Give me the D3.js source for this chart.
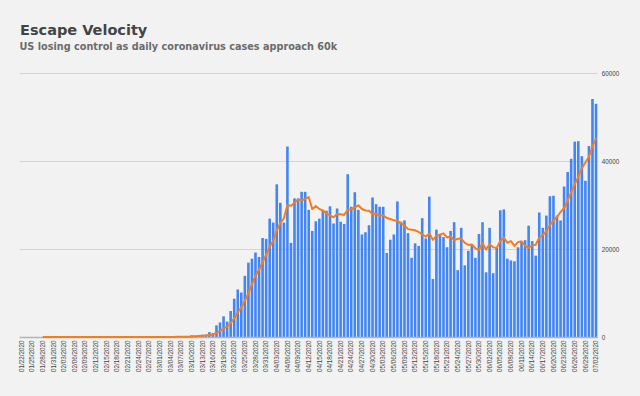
<!DOCTYPE html>
<html>
<head>
<meta charset="utf-8">
<script src="https://cdn.jsdelivr.net/npm/d3@7"></script>
<style>
    body { margin: 0; background: #f2f2f2; }
    svg { display: block; font-family: "DejaVu Sans", Verdana, sans-serif; }
</style>
</head>
<body>
<div id="chart"></div>
<script>

// US daily new coronavirus cases, one value per day from 01/22/2020 to 07/02/2020
let firstDay = "01/22/2020",
    lastDay = "07/02/2020";

let dailyCases = [
    // Jan 22 - Jan 31
    1, 0, 1, 0, 3, 0, 0, 0, 0, 1,
    // Feb
    1, 0, 3, 0, 1, 0, 0, 0, 0, 0, 1, 0, 1, 0, 0, 0, 0, 0, 0, 0, 2, 0, 0, 36, 0, 6, 1, 2, 8,
    // Mar
    6, 23, 20, 31, 68, 45, 140, 116, 65, 376, 322, 382, 516, 548, 1100, 900,
    2650, 3300, 4700, 3500, 5900, 8700, 10800, 10100, 13900, 16900, 17800, 19200, 18200, 22500, 22300,
    // Apr
    26900, 26000, 34700, 30500, 26000, 43300, 21400, 31500, 31500, 33000, 33000, 28900, 24100, 26300, 26900,
    28900, 28700, 29700, 25800, 29200, 26200, 25700, 37000, 29600, 32900, 28900, 23300, 23800, 25400, 31700,
    // May
    30200, 29600, 29600, 19100, 22100, 23300, 30800, 26200, 26500, 23600, 18000, 21300, 20700, 27000, 22400,
    31900, 13200, 24400, 23300, 22700, 20400, 24100, 26100, 15200, 24800, 16300, 19600, 21100, 18000, 23400, 26100,
    // Jun
    14700, 24800, 14500, 20300, 28800, 29000, 17800, 17400, 17200, 20400, 21600, 22000, 25300, 21800, 18500,
    28300, 24800, 27600, 32000, 32100, 27600, 26500, 34200, 37500, 40500, 44400, 44500, 41100, 35500, 43400,
    // Jul
    54100, 53000
];

let yTicks = [0, 20000, 40000, 60000];

let titleText = "Escape Velocity",
    subtitleText = "US losing control as daily coronavirus cases approach 60k";


let width = 640,
    height = 396;

let plot = {left: 19.6, right: 597.8, top: 73, bottom: 337};

let svg = d3.select("#chart").append("svg")
    .attr("width", width)
    .attr("height", height);

svg.append("rect")
    .attr("width", width)
    .attr("height", height)
    .attr("fill", "#f2f2f2");


// build day labels and the 7 day average
let parseDay = d3.utcParse("%m/%d/%Y"),
    formatDay = d3.utcFormat("%m/%d/%Y");

let days = d3.utcDay.range(parseDay(firstDay), d3.utcDay.offset(parseDay(lastDay), 1)).map(formatDay);

let rows = days.map(function(d, i) {
    return {
        day: d,
        cases: dailyCases[i],
        avg: i >= 6 ? d3.mean(dailyCases.slice(i - 6, i + 1)) : null
    };
});


// SCALES

let x = d3.scaleBand()
    .domain(days)
    .range([plot.left, plot.right])
    .paddingInner(0.27)
    .paddingOuter(0.135);

let y = d3.scaleLinear()
    .domain([0, 60000])
    .range([plot.bottom, plot.top]);


// gridlines
svg.append("g")
    .selectAll("line")
    .data(yTicks.filter(d => d > 0))
    .enter()
    .append("line")
    .attr("x1", plot.left)
    .attr("x2", plot.right)
    .attr("y1", d => y(d) + 0.5)
    .attr("y2", d => y(d) + 0.5)
    .attr("stroke", "#d3d3d3")
    .attr("stroke-width", 1);


// ---- DRAW BARS ----
svg.append("g")
    .selectAll(".bar")
    .data(rows)
    .enter()
    .append("rect")
    .attr("class", "bar")
    .attr("x", d => x(d.day))
    .attr("y", d => y(d.cases))
    .attr("width", x.bandwidth())
    .attr("height", d => plot.bottom - y(d.cases))
    .attr("fill", "#4285f4");

// baseline
svg.append("line")
    .attr("x1", plot.left)
    .attr("x2", plot.right)
    .attr("y1", plot.bottom + 0.5)
    .attr("y2", plot.bottom + 0.5)
    .attr("stroke", "#b4b4b4")
    .attr("stroke-width", 1.5);


// ---- DRAW LINE ----
let avgLine = d3.line()
    .defined(d => d.avg !== null)
    .x(d => x(d.day) + x.bandwidth() / 2)
    .y(d => y(d.avg));

svg.append("path")
    .datum(rows)
    .attr("d", avgLine)
    .attr("fill", "none")
    .attr("stroke", "#fa7b17")
    .attr("stroke-width", 2)
    .attr("stroke-linejoin", "round");


// ---- DRAW AXIS ----
let xAxis = d3.axisBottom(x)
    .tickValues(days.filter((d, i) => i % 3 === 0))
    .tickSize(0);

let xAxisGroup = svg.append("g")
    .attr("class", "x-axis axis")
    .attr("transform", "translate(0," + plot.bottom + ")")
    .call(xAxis);

xAxisGroup.select(".domain").remove();
xAxisGroup.selectAll("text")
    .attr("transform", "rotate(-90)")
    .attr("x", -3.5)
    .attr("y", 0)
    .attr("dy", "0.35em")
    .style("text-anchor", "end")
    .attr("font-size", 6.3)
    .attr("fill", "#444");

let yAxis = d3.axisRight(y)
    .tickValues(yTicks)
    .tickSize(0)
    .tickPadding(4)
    .tickFormat(d3.format("d"));

let yAxisGroup = svg.append("g")
    .attr("class", "y-axis axis")
    .attr("transform", "translate(" + plot.right + ",0)")
    .call(yAxis);

yAxisGroup.select(".domain").remove();
yAxisGroup.selectAll("text")
    .attr("font-size", 6.3)
    .attr("fill", "#444");


// titles
svg.append("text")
    .attr("x", 20)
    .attr("y", 35)
    .attr("font-size", 14.5)
    .attr("font-weight", "bold")
    .attr("fill", "#444")
    .text(titleText);

svg.append("text")
    .attr("x", 19.5)
    .attr("y", 50)
    .attr("font-size", 9.7)
    .attr("font-weight", "bold")
    .attr("fill", "#6b6b6b")
    .text(subtitleText);

</script>
</body>
</html>
